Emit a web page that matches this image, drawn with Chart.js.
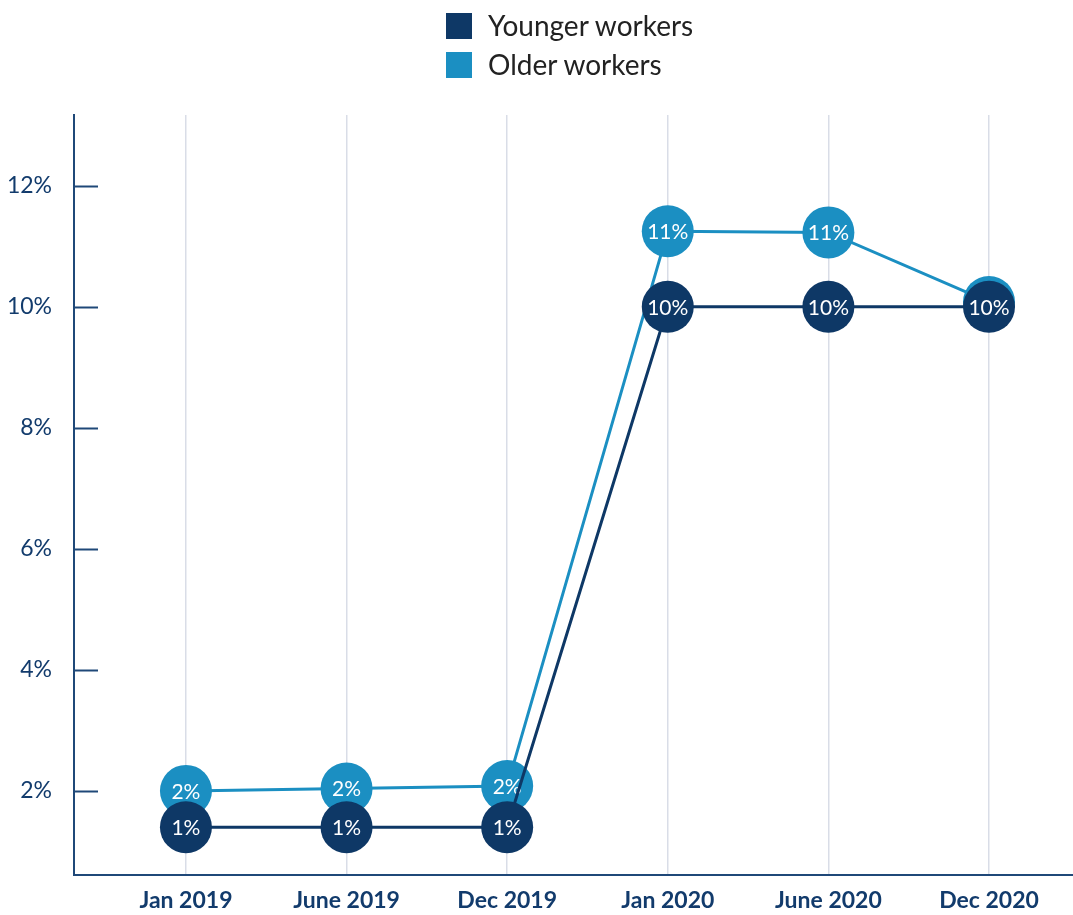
<!DOCTYPE html>
<html>
<head>
<meta charset="utf-8">
<script src="https://cdn.jsdelivr.net/npm/chart.js@4/dist/chart.umd.min.js"></script>
<style>
  html, body { margin: 0; padding: 0; background: #ffffff; }
  #wrap { position: relative; width: 1073px; height: 915px; }
  #chart { position: absolute; left: 0; top: 0; }
  #legend { position: absolute; left: 446px; top: 12px; font-family: Lato, "Open Sans", sans-serif; }
  .item { display: flex; align-items: center; height: 27px; margin-bottom: 12px; }
  .swatch { width: 26px; height: 26px; margin-right: 16px; }
  .label { font-size: 28px; color: #222222; line-height: 27px; }
</style>
</head>
<body>
<div id="wrap">
  <canvas id="chart" width="1073" height="915"></canvas>
  <div id="legend"></div>
</div>
<script>
// Survey periods along the horizontal axis
const periods = ['Jan 2019', 'June 2019', 'Dec 2019', 'Jan 2020', 'June 2020', 'Dec 2020'];

// Share of workers (%) per period
const youngerWorkers = [1.4, 1.4, 1.4, 10.0, 10.0, 10.0];
const olderWorkers = [2.0, 2.04, 2.08, 11.25, 11.23, 10.08];

// Series names shown in the legend
const seriesNames = ['Younger workers', 'Older workers'];

// Values marked on the vertical axis
const yTickValues = [2, 4, 6, 8, 10, 12];

const NAVY = '#0e3866';
const BLUE = '#1b8fc2';
const AXIS = '#1f4878';
const GRID = '#d9dde7';
const FONT = 'Lato, "Open Sans", sans-serif';

const toPoints = (arr) => arr.map((v, i) => ({ x: i, y: v }));

// Legend built from the series names and colours
const legendEl = document.getElementById('legend');
[[seriesNames[0], NAVY], [seriesNames[1], BLUE]].forEach(([name, color]) => {
  const row = document.createElement('div');
  row.className = 'item';
  const sw = document.createElement('div');
  sw.className = 'swatch';
  sw.style.background = color;
  const tx = document.createElement('div');
  tx.className = 'label';
  tx.textContent = name;
  row.appendChild(sw);
  row.appendChild(tx);
  legendEl.appendChild(row);
});

// Writes each point's rounded value inside its circle, right after that dataset is drawn
const pointLabels = {
  id: 'pointLabels',
  afterDatasetDraw(chart, args) {
    const { ctx } = chart;
    const ds = chart.data.datasets[args.index];
    ctx.save();
    ctx.font = '400 21px ' + FONT;
    ctx.fillStyle = '#ffffff';
    ctx.textAlign = 'center';
    ctx.textBaseline = 'middle';
    args.meta.data.forEach((el, i) => {
      const v = ds.data[i].y;
      ctx.fillText(Math.round(v) + '%', el.x, el.y + 1);
    });
    ctx.restore();
  }
};

// Short tick marks pointing into the plot from the vertical axis
const innerTicks = {
  id: 'innerTicks',
  afterDraw(chart) {
    const { ctx } = chart;
    const y = chart.scales.y;
    const left = chart.chartArea.left;
    ctx.save();
    ctx.strokeStyle = AXIS;
    ctx.lineWidth = 2;
    y.ticks.forEach((t) => {
      const py = Math.round(y.getPixelForValue(t.value)) + 0.5;
      ctx.beginPath();
      ctx.moveTo(left, py);
      ctx.lineTo(left + 24, py);
      ctx.stroke();
    });
    ctx.restore();
  }
};

new Chart(document.getElementById('chart'), {
  type: 'line',
  data: {
    datasets: [
      {
        label: seriesNames[0],
        data: toPoints(youngerWorkers),
        borderColor: NAVY,
        backgroundColor: NAVY,
        pointBackgroundColor: NAVY,
        borderWidth: 3,
        pointRadius: 26,
        pointHoverRadius: 26,
        pointBorderWidth: 0,
        clip: false
      },
      {
        label: seriesNames[1],
        data: toPoints(olderWorkers),
        borderColor: BLUE,
        backgroundColor: BLUE,
        pointBackgroundColor: BLUE,
        borderWidth: 3,
        pointRadius: 26,
        pointHoverRadius: 26,
        pointBorderWidth: 0,
        clip: false
      }
    ]
  },
  options: {
    responsive: false,
    devicePixelRatio: 1,
    animation: false,
    events: [],
    layout: { autoPadding: false, padding: { top: 115, right: 0, left: 0, bottom: 0 } },
    plugins: {
      legend: { display: false },
      tooltip: { enabled: false }
    },
    scales: {
      x: {
        type: 'linear',
        min: -0.697,
        max: 5.523,
        afterBuildTicks(scale) {
          scale.ticks = periods.map((_, i) => ({ value: i }));
        },
        afterFit(scale) { scale.height = 40; },
        grid: { color: GRID, lineWidth: 1.5, drawTicks: false },
        border: { color: AXIS, width: 2 },
        ticks: {
          padding: 12,
          maxRotation: 0,
          autoSkip: false,
          color: '#123b6c',
          font: { family: FONT, size: 23, weight: '700' },
          callback: (v) => periods[v]
        }
      },
      y: {
        type: 'linear',
        min: 0.61,
        max: 13.17,
        afterBuildTicks(scale) {
          scale.ticks = yTickValues.map((v) => ({ value: v }));
        },
        afterFit(scale) { scale.width = 74; },
        grid: { drawOnChartArea: false, drawTicks: false },
        border: { color: AXIS, width: 2 },
        ticks: {
          padding: 22,
          color: '#123b6c',
          font: { family: FONT, size: 23, weight: '400' },
          callback: (v) => v + '%'
        }
      }
    }
  },
  plugins: [pointLabels, innerTicks]
});
</script>
</body>
</html>
